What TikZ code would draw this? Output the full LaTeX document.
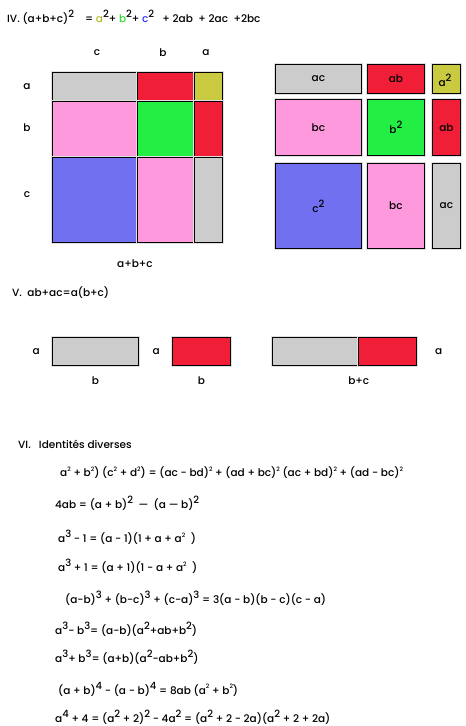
\documentclass[tikz,border=0pt]{standalone}
\usepackage{fontspec}
\setmainfont{Poppins Medium}
\usetikzlibrary{positioning}
\usepackage{xcolor}
\definecolor{cellgray}{HTML}{CCCCCC}
\definecolor{cellred}{HTML}{F01E37}
\definecolor{cellolive}{HTML}{CACA40}
\definecolor{cellpink}{HTML}{FF99DD}
\definecolor{cellgreen}{HTML}{22EE44}
\definecolor{cellblue}{HTML}{7070F0}
\definecolor{txtolive}{HTML}{B8B830}
\definecolor{txtgreen}{HTML}{33DD33}
\definecolor{txtblue}{HTML}{3030FF}
% large raised exponent, and the small one
\newcommand{\powr}[1]{\raisebox{0.85ex}{\fontsize{10}{10}\selectfont #1}}
\newcommand{\spowr}[1]{\raisebox{0.9ex}{\fontsize{6}{6}\selectfont #1}}

\begin{document}
\begin{tikzpicture}[
    x=1pt, y=-1pt,
    every node/.style={font=\fontsize{10.5}{12}\selectfont},
    cell/.style={
        draw=black, thick, fill=#1, inner sep=0pt, anchor=north west,
        preaction={draw=black!12, line width=3pt}
    },
    side/.style={inner sep=1pt},
    formula/.style={anchor=west, inner sep=0pt}
]
\useasboundingbox (0,0) rectangle (466,726);

% IV. Square of a trinomial
\node[formula] (titleIV) at (7,17)
    {IV.\ (a+b+c)\powr{2}\ \ \ \ = {\color{txtolive}a}\powr{2}+ {\color{txtgreen}b}\powr{2}+ {\color{txtblue}c}\powr{2}\ \ \ + 2ab\ \ + 2ac\ \ +2bc};

\node[side] (topc) at (97,53) {c};
\node[side] (topb) at (163,53) {b};
\node[side] (topa) at (206,53) {a};
\node[side] (lefta) at (27,87) {a};
\node[side] (leftb) at (27,128) {b};
\node[side] (leftc) at (27,195) {c};

% Big square, cut in nine
\node[cell=cellgray,  minimum width=85pt, minimum height=29pt] (sq11) at (52,72) {};
\node[cell=cellred,   minimum width=57pt, minimum height=29pt] (sq12) at (137,72) {};
\node[cell=cellolive, minimum width=28pt, minimum height=29pt] (sq13) at (194,72) {};
\node[cell=cellpink,  minimum width=85pt, minimum height=56pt] (sq21) at (52,101) {};
\node[cell=cellgreen, minimum width=57pt, minimum height=56pt] (sq22) at (137,101) {};
\node[cell=cellred,   minimum width=28pt, minimum height=56pt] (sq23) at (194,101) {};
\node[cell=cellblue,  minimum width=85pt, minimum height=85pt] (sq31) at (52,157) {};
\node[cell=cellpink,  minimum width=57pt, minimum height=85pt] (sq32) at (137,157) {};
\node[cell=cellgray,  minimum width=28pt, minimum height=85pt] (sq33) at (194,157) {};

\node[side] (sumabc) at (135,264) {a+b+c};

% Same pieces, pulled apart
\node[cell=cellgray,  minimum width=86pt, minimum height=29pt] (ac1) at (275,64) {ac};
\node[cell=cellred,   minimum width=57pt, minimum height=29pt] (ab1) at (367,64) {ab};
\node[cell=cellolive, minimum width=28pt, minimum height=29pt] (asq) at (432,64) {};
\node[side] (asqlbl) at (445,80) {a\powr{2}};
\node[cell=cellpink,  minimum width=86pt, minimum height=56pt] (bc1) at (275,99) {bc};
\node[cell=cellgreen, minimum width=57pt, minimum height=56pt] (bsq) at (367,99) {b\powr{2}};
\node[cell=cellred,   minimum width=28pt, minimum height=56pt] (ab2) at (432,99) {ab};
\node[cell=cellblue,  minimum width=86pt, minimum height=85pt] (csq) at (275,163) {c\powr{2}};
\node[cell=cellpink,  minimum width=57pt, minimum height=85pt] (bc2) at (367,163) {bc};
\node[cell=cellgray,  minimum width=28pt, minimum height=85pt] (ac2) at (432,163) {ac};

% V. Factoring
\node[formula] (titleV) at (12,293) {V.\ \ ab+ac=a(b+c)};

\node[cell=cellgray, minimum width=86pt, minimum height=28pt] (rab) at (52,337) {};
\node[cell=cellred,  minimum width=58pt, minimum height=28pt] (rac) at (172,337) {};
\node[cell=cellgray, minimum width=86pt, minimum height=28pt] (rsumb) at (272,337) {};
\node[cell=cellred,  minimum width=58pt, minimum height=28pt] (rsumc) at (358,337) {};

\node[side, left=11pt of rab] (va1) {a};
\node[side, left=11pt of rac] (va2) {a};
\node[side, right=17pt of rsumc] (va3) {a};
\node[side, below=10pt of rab] (vb1) {b};
\node[side, below=10pt of rac] (vb2) {b};
\node[side, below=10pt of rsumb.south east] (vbc) {b+c};

% VI. Various identities
\node[formula] (titleVI) at (18,444) {VI.\ \ \ Identités diverses};

\node[formula] (id1) at (60,473)
    {a\spowr{2} + b\spowr{2}) (c\spowr{2} + d\spowr{2}) = (ac - bd)\spowr{2} + (ad + bc)\spowr{2} (ac + bd)\spowr{2} + (ad - bc)\spowr{2}};
\node[formula] (id2) at (55,503)
    {4ab = (a + b)\powr{2}\ \ — \ (a — b)\powr{2}};
\node[formula] (id3) at (58,537)
    {a\powr{3}\ - 1 = (a - 1)(1 + a + a\spowr{2}\ \ )};
\node[formula] (id4) at (58,566)
    {a\powr{3}\ + 1 = (a + 1)(1 - a + a\spowr{2}\ \ )};
\node[formula] (id5) at (65,598)
    {(a-b)\powr{3} + (b-c)\powr{3} + (c-a)\powr{3} = 3(a - b)(b - c)(c - a)};
\node[formula] (id6) at (55,629)
    {a\powr{3}- b\powr{3}= (a-b)(a\powr{2}+ab+b\powr{2})};
\node[formula] (id7) at (55,657)
    {a\powr{3}+ b\powr{3}= (a+b)(a\powr{2}-ab+b\powr{2})};
\node[formula] (id8) at (58,689)
    {(a + b)\powr{4} - (a - b)\powr{4} = 8ab (a\spowr{2} + b\spowr{2})};
\node[formula] (id9) at (55,717)
    {a\powr{4} + 4 = (a\powr{2} + 2)\powr{2} - 4a\powr{2} = (a\powr{2} + 2 - 2a)(a\powr{2} + 2 + 2a)};

\end{tikzpicture}
\end{document}
